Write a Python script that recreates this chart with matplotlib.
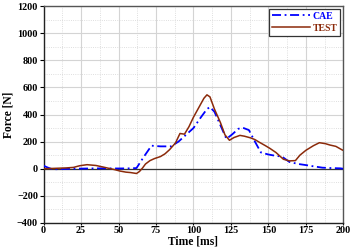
import numpy as np
import matplotlib.pyplot as plt
from matplotlib.ticker import MultipleLocator

# values
cae_t = [0, 3, 6, 10, 20, 30, 40, 50, 58, 62, 67, 72, 78, 85, 90, 95, 100, 105,
         109, 111, 114, 118, 122, 126, 130, 133, 137, 141, 145, 150, 155, 159,
         164, 170, 175, 180, 186, 192, 198, 200]
cae_f = [22, 8, -4, -3, 0, 2, 3, 2, 3, 5, 90, 170, 165, 165, 200, 250, 300, 380,
         440, 455, 420, 320, 220, 255, 295, 302, 285, 200, 120, 105, 95, 90,
         50, 35, 27, 18, 8, 5, 3, 0]

test_t = [0, 5, 10, 15, 20, 24, 29, 35, 40, 44, 48, 51, 55, 58, 62, 64, 66, 68,
          71, 74, 78, 81, 84, 88, 91, 94, 97, 100, 104, 107, 109, 111, 114, 118,
          121, 124, 127, 131, 134, 138, 141, 144, 148, 151, 155, 160, 164, 168,
          171, 175, 180, 184, 188, 191, 195, 199, 200]
test_f = [0, 2, 4, 6, 10, 22, 30, 24, 12, 2, -8, -17, -25, -28, -35, -20, 5, 35,
          60, 75, 90, 110, 140, 190, 260, 255, 310, 380, 460, 520, 545, 530,
          440, 340, 250, 210, 230, 246, 240, 228, 215, 195, 170, 150, 120, 70,
          58, 60, 100, 136, 170, 192, 185, 175, 165, 140, 135]

plt.rcParams['font.family'] = ['Liberation Serif', 'DejaVu Serif']
plt.rcParams['font.weight'] = 'bold'

fig = plt.figure(figsize=(3.54, 2.5), dpi=100)
ax = fig.add_axes([0.123, 0.108, 0.847, 0.868])

ax.plot(cae_t, cae_f, color='#0000ff', lw=1.3, ls=(0, (5, 2, 1, 2)), label='CAE', zorder=3)
ax.plot(test_t, test_f, color='#8b2a0a', lw=1.1, label='TEST', zorder=4)
ax.axhline(0, color='#333333', lw=0.9, zorder=2)

ax.set_xlim(0, 200)
ax.set_ylim(-400, 1200)
ax.xaxis.set_major_locator(MultipleLocator(25))
ax.xaxis.set_minor_locator(MultipleLocator(12.5))
ax.yaxis.set_major_locator(MultipleLocator(200))
ax.yaxis.set_minor_locator(MultipleLocator(100))
ax.grid(which='major', color='#d4d4d4', lw=0.8)
ax.grid(which='minor', color='#d4d4d4', lw=0.6, ls=':')
ax.set_axisbelow(True)

ax.tick_params(which='major', labelsize=7.3)
ax.tick_params(axis='y', which='major', length=3, width=0.8, pad=1)
ax.tick_params(axis='x', which='major', length=1.5, width=0.8, pad=1)
ax.tick_params(which='minor', length=0)
for s in ax.spines.values():
    s.set_color('#555555')
    s.set_linewidth(1.0)
ax.spines['left'].set_color('#222222')
ax.spines['bottom'].set_color('#222222')

ax.set_xlabel('Time [ms]', fontsize=8.3, fontweight='bold', labelpad=0)
ax.set_ylabel('Force [N]', fontsize=8.3, fontweight='bold', labelpad=2)

leg = ax.legend(loc='upper right', fontsize=7, frameon=True, fancybox=False,
                framealpha=1, edgecolor='#333333', handlelength=3.9,
                borderpad=0.3, labelspacing=0.3, handletextpad=0.3,
                borderaxespad=0.3)
leg.get_frame().set_linewidth(0.9)
for txt, c in zip(leg.get_texts(), ['#0000ff', '#8b2a0a']):
    txt.set_color(c)

fig.savefig('out.png', dpi=100)
